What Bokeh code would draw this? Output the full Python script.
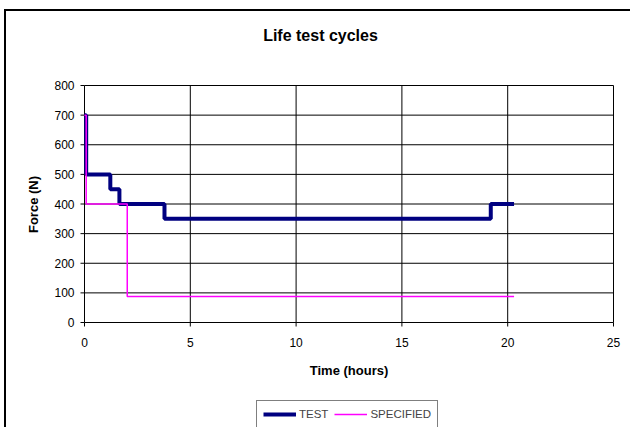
import math
from bokeh.plotting import figure
from bokeh.models import Legend, LegendItem, Range1d, Label
from bokeh.core.properties import value
from bokeh.embed import file_html
from bokeh.resources import INLINE

# ---- data ----
test_time = [0, 0.08, 0.08, 1.22, 1.22, 1.65, 1.65, 3.78, 3.78, 19.2, 19.2, 20.3]
test_force = [700, 700, 500, 500, 450, 450, 400, 400, 350, 350, 400, 400]
spec_time = [0, 0.08, 0.08, 2.02, 2.02, 20.3]
spec_force = [700, 700, 400, 400, 88, 88]
x_ticks = [0, 5, 10, 15, 20, 25]
y_ticks = [0, 100, 200, 300, 400, 500, 600, 700, 800]
x_tick_labels = [str(t) for t in x_ticks]
y_tick_labels = [str(t) for t in y_ticks]
title_text = "Life test cycles"
x_title = "Time (hours)"
y_title = "Force (N)"

# ---- layout constants (pixels) ----
W, H = 630, 427
PLOT_L, PLOT_R, PLOT_T, PLOT_B = 84, 613, 85, 322
x0, x1 = x_ticks[0], x_ticks[-1]
y0, y1 = y_ticks[0], y_ticks[-1]
PX_X = (PLOT_R - PLOT_L) / (x1 - x0)      # pixels per hour
PX_Y = (PLOT_B - PLOT_T) / (y1 - y0)      # pixels per newton

FONT = "Liberation Sans"

p = figure(width=W, height=H, output_backend="svg", toolbar_location=None,
           title=None, x_axis_type=None, y_axis_type=None,
           x_range=Range1d(x0 - PLOT_L / PX_X, x1 + (W - PLOT_R) / PX_X),
           y_range=Range1d(y0 - (H - PLOT_B) / PX_Y, y1 + PLOT_T / PX_Y),
           min_border=0)
p.min_border_left = p.min_border_right = p.min_border_top = p.min_border_bottom = 0
p.grid.visible = False
p.outline_line_color = None
p.background_fill_color = None
p.border_fill_color = None
p.styles = {
    "background-color": "white",
    "background-image": "linear-gradient(black, black), linear-gradient(black, black)",
    "background-size": "2px 100%, 100% 2px",
    "background-position": "4px 9px, 4px 9px",
    "background-repeat": "no-repeat",
}

# grid lines / plot-area border
p.segment(x0=x_ticks, y0=[y0] * len(x_ticks), x1=x_ticks, y1=[y1] * len(x_ticks),
          line_color="black", line_width=1)
p.segment(x0=[x0] * len(y_ticks), y0=y_ticks, x1=[x1] * len(y_ticks), y1=y_ticks,
          line_color="black", line_width=1)
# tick marks (4 px outside)
p.segment(x0=x_ticks, y0=[y0] * len(x_ticks), x1=x_ticks,
          y1=[y0 - 4 / PX_Y] * len(x_ticks), line_color="black", line_width=1)
p.segment(x0=[x0 - 4 / PX_X] * len(y_ticks), y0=y_ticks, x1=[x0] * len(y_ticks),
          y1=y_ticks, line_color="black", line_width=1)

# tick labels
p.text(x=x_ticks, y=[y0 - 20 / PX_Y] * len(x_ticks), text=x_tick_labels,
       text_font=value(FONT), text_font_size="12px", text_color="black",
       text_align="center", text_baseline="middle")
p.text(x=[x0 - 10 / PX_X] * len(y_ticks), y=y_ticks, text=y_tick_labels,
       text_font=value(FONT), text_font_size="12px", text_color="black",
       text_align="right", text_baseline="middle")

# data
r_test = p.line(test_time, test_force, line_color="#000080", line_width=4)
r_spec = p.line(spec_time, spec_force, line_color="#FF00FF", line_width=1.5)

# titles
p.add_layout(Label(x=320, y=H - 35, x_units="screen", y_units="screen",
                   text=title_text, text_font=FONT, text_font_size="16px",
                   text_font_style="bold", text_color="black",
                   text_align="center", text_baseline="middle"))
p.add_layout(Label(x=(PLOT_L + PLOT_R) / 2, y=H - 370, x_units="screen", y_units="screen",
                   text=x_title, text_font=FONT, text_font_size="13px",
                   text_font_style="bold", text_color="black",
                   text_align="center", text_baseline="middle"))
p.add_layout(Label(x=33, y=H - 204, x_units="screen", y_units="screen",
                   text=y_title, text_font=FONT, text_font_size="13px",
                   text_font_style="bold", text_color="black", angle=math.pi / 2,
                   text_align="center", text_baseline="middle"))

legend = Legend(items=[LegendItem(label="TEST", renderers=[r_test]),
                       LegendItem(label="SPECIFIED", renderers=[r_spec])],
                orientation="horizontal", location=(256, -1),
                glyph_width=33, glyph_height=14,
                label_text_font=FONT, label_text_font_size="11.5px",
                label_standoff=3, spacing=6, padding=6, margin=0,
                border_line_color="black", border_line_width=1,
                background_fill_color="white")
p.add_layout(legend, "center")

open("out.html", "w").write(file_html(p, INLINE))
